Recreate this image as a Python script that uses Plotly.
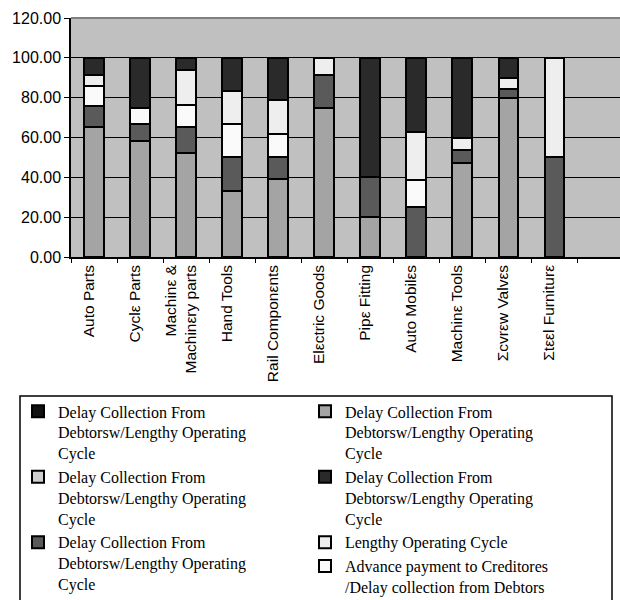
import plotly.graph_objects as go

categories = ["Auto Parts", "Cyclε Parts", "Machinε &<br>Machinεry parts", "Hand Tools",
              "Rail Componεnts", "Elεctric Goods", "Pipε Fitting", "Auto Mobilεs",
              "Machinε Tools", "Σcvrεw Valvεs", "Σtεεl Furniturε"]

# stacked from bottom to top
s_mid   = [65.5, 58.0, 52.0, 33.3, 39.0, 75.0, 20.0, None, 47.0, 80.0, None]
s_dark  = [10.5, 8.7, 13.5, 16.7, 11.2, 16.6, 20.0, 25.0, 6.7, 4.6, 50.0]
s_white = [10.0, 8.0, 10.8, 16.7, 11.6, None, None, 13.5, None, None, None]
s_light = [5.6, None, 17.8, 16.7, 16.8, 8.4, None, 24.5, 6.3, 5.4, 50.0]
s_black = [8.4, 25.3, 5.9, 16.6, 21.4, None, 60.0, 37.0, 40.0, 10.0, None]
s_empty = [None] * len(categories)

name_delay = "Delay Collection From<br>Debtorsw/Lengthy Operating<br>Cycle"
name_lengthy = "Lengthy Operating Cycle"
name_advance = "Advance payment to Creditores<br>/Delay collection from Debtors"

y_ticks = [0, 20, 40, 60, 80, 100, 120]

series = [
    # (values, colour, name, legend, rank)
    (s_empty, "#111111", name_delay, "legend", 1),
    (s_empty, "#CFCFCF", name_delay, "legend", 2),
    (s_mid, "#A4A4A4", name_delay, "legend2", 1),
    (s_dark, "#5A5A5A", name_delay, "legend", 3),
    (s_white, "#FAFAFA", name_advance, "legend2", 4),
    (s_light, "#EEEEEE", name_lengthy, "legend2", 3),
    (s_black, "#2A2A2A", name_delay, "legend2", 2),
]

fig = go.Figure()
for vals, col, nm, lg, rk in series:
    fig.add_trace(go.Bar(
        x=categories, y=vals, name=nm, legend=lg, legendrank=rk,
        marker=dict(color=col, line=dict(color="#000000", width=2)),
    ))

legend_font = dict(family="Liberation Serif", size=16, color="#000000")

fig.update_layout(
    width=620, height=600,
    margin=dict(l=71, r=0, t=18, b=343, autoexpand=False),
    barmode="stack", bargap=0.58,
    plot_bgcolor="#C0C0C0", paper_bgcolor="#FFFFFF",
    font=dict(family="Liberation Sans", size=16, color="#000000"),
    legend=dict(x=-0.0965, y=-0.575, xanchor="left", yanchor="top",
                traceorder="normal", bgcolor="rgba(0,0,0,0)", valign="top",
                font=legend_font),
    legend2=dict(x=0.4262, y=-0.575, xanchor="left", yanchor="top",
                 traceorder="normal", bgcolor="rgba(0,0,0,0)", valign="top",
                 font=legend_font),
    xaxis=dict(type="category", range=[-0.5, 11.43], tickangle=-90,
               tickson="boundaries", ticks="outside", ticklen=4, tickcolor="#000000",
               showline=True, linecolor="#000000", linewidth=1.5,
               showgrid=False, automargin=False, ticklabelshift=-5,
               tickfont=dict(family="Liberation Sans", size=15.5)),
    yaxis=dict(range=[0, 120], tickvals=y_ticks, tickformat=".2f",
               ticks="outside", ticklen=5, tickcolor="#000000",
               showline=True, linecolor="#000000", linewidth=1.5,
               showgrid=True, gridcolor="#000000", gridwidth=1,
               zeroline=False, automargin=False,
               tickfont=dict(family="Liberation Sans", size=16)),
    shapes=[
        dict(type="line", xref="paper", yref="paper", x0=0, x1=1, y0=1, y1=1,
             line=dict(color="#808080", width=2)),
        dict(type="rect", xref="paper", yref="paper",
             x0=(20 - 71) / 549, x1=(612 - 71) / 549,
             y0=(257 - 396) / 239, y1=(257 - 612) / 239,
             line=dict(color="#000000", width=1.5), fillcolor="rgba(0,0,0,0)"),
    ],
)

fig.write_html("out.html")
